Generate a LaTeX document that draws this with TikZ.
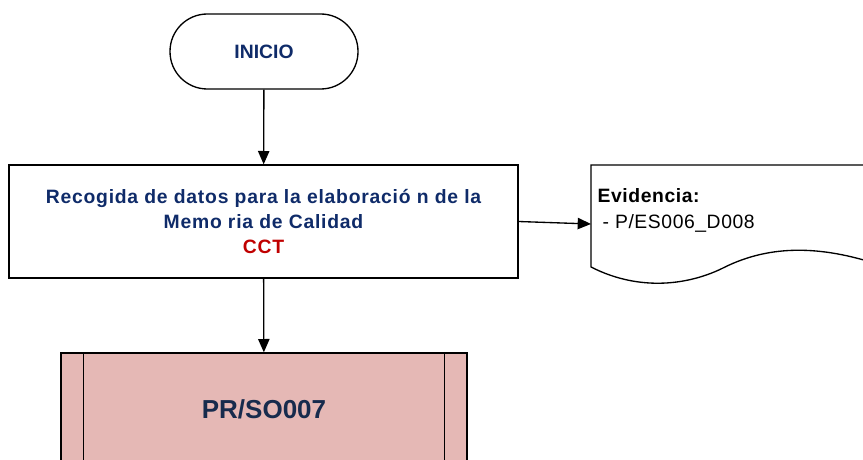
\documentclass[tikz,border=0pt]{standalone}
\usepackage{fontspec}
\setmainfont{Liberation Sans}
\newfontfamily\widefont[LetterSpace=4]{Liberation Sans}
\newfontfamily\evfont[LetterSpace=3]{Liberation Sans}
\usepackage{tikz}
\usetikzlibrary{arrows.meta}
\definecolor{navy}{HTML}{0F2B69}
\definecolor{darknavy}{HTML}{172B4D}
\definecolor{cctred}{HTML}{C00000}
\definecolor{subpink}{HTML}{E5B8B5}

\begin{document}
\begin{tikzpicture}[x=0.75pt, y=-0.75pt, line width=1pt,
    >={Triangle[length=10pt, width=8.5pt]},
    terminal/.style={draw, rounded corners=28pt, minimum width=141pt, minimum height=56.25pt,
        font=\bfseries\fontsize{14.5}{17}\selectfont, text=navy},
    activity/.style={draw, minimum width=381.75pt, minimum height=84.75pt, align=center,
        font=\widefont\bfseries\fontsize{14.5}{18.75}\selectfont, text=navy},
    subproc/.style={draw, fill=subpink, minimum width=304.5pt, minimum height=84pt,
        font=\bfseries\fontsize{19.5}{23}\selectfont, text=darknavy},
    evtext/.style={anchor=base west, inner sep=0pt, font=\evfont\fontsize{14.5}{17}\selectfont}]
    \useasboundingbox (0,0) rectangle (863,460);

    \node[terminal] (start) at (264,51.5) {INICIO};
    \node[activity] (rec) at (263.5,221.5) {Recogida de datos para la elaboració n de la\\
        Memo ria de Calidad\\ \textcolor{cctred}{CCT}};
    \node[subproc] (sub) at (264,409) {PR/SO007};
    \draw ([xshift=17.25pt]sub.north west) -- ([xshift=17.25pt]sub.south west);
    \draw ([xshift=-17.25pt]sub.north east) -- ([xshift=-17.25pt]sub.south east);

    % evidence document
    \draw[fill=white] (591,267) -- (591,165) -- (880,165) -- (880,265)
        .. controls (820,245) and (770,245) .. (725,267)
        .. controls (690,285) and (640,292) .. (591,267) -- cycle;
    \coordinate (docin) at (591,224);
    \node[evtext] (evid) at (597,202) {\bfseries Evidencia:};
    \node[evtext] (evidref) at (602,228) {- P/ES006\_D008};

    \draw[->] (start) -- (rec);
    \draw[->] (rec) -- (sub);
    \draw[->] (rec.east) -- (docin);
\end{tikzpicture}
\end{document}
